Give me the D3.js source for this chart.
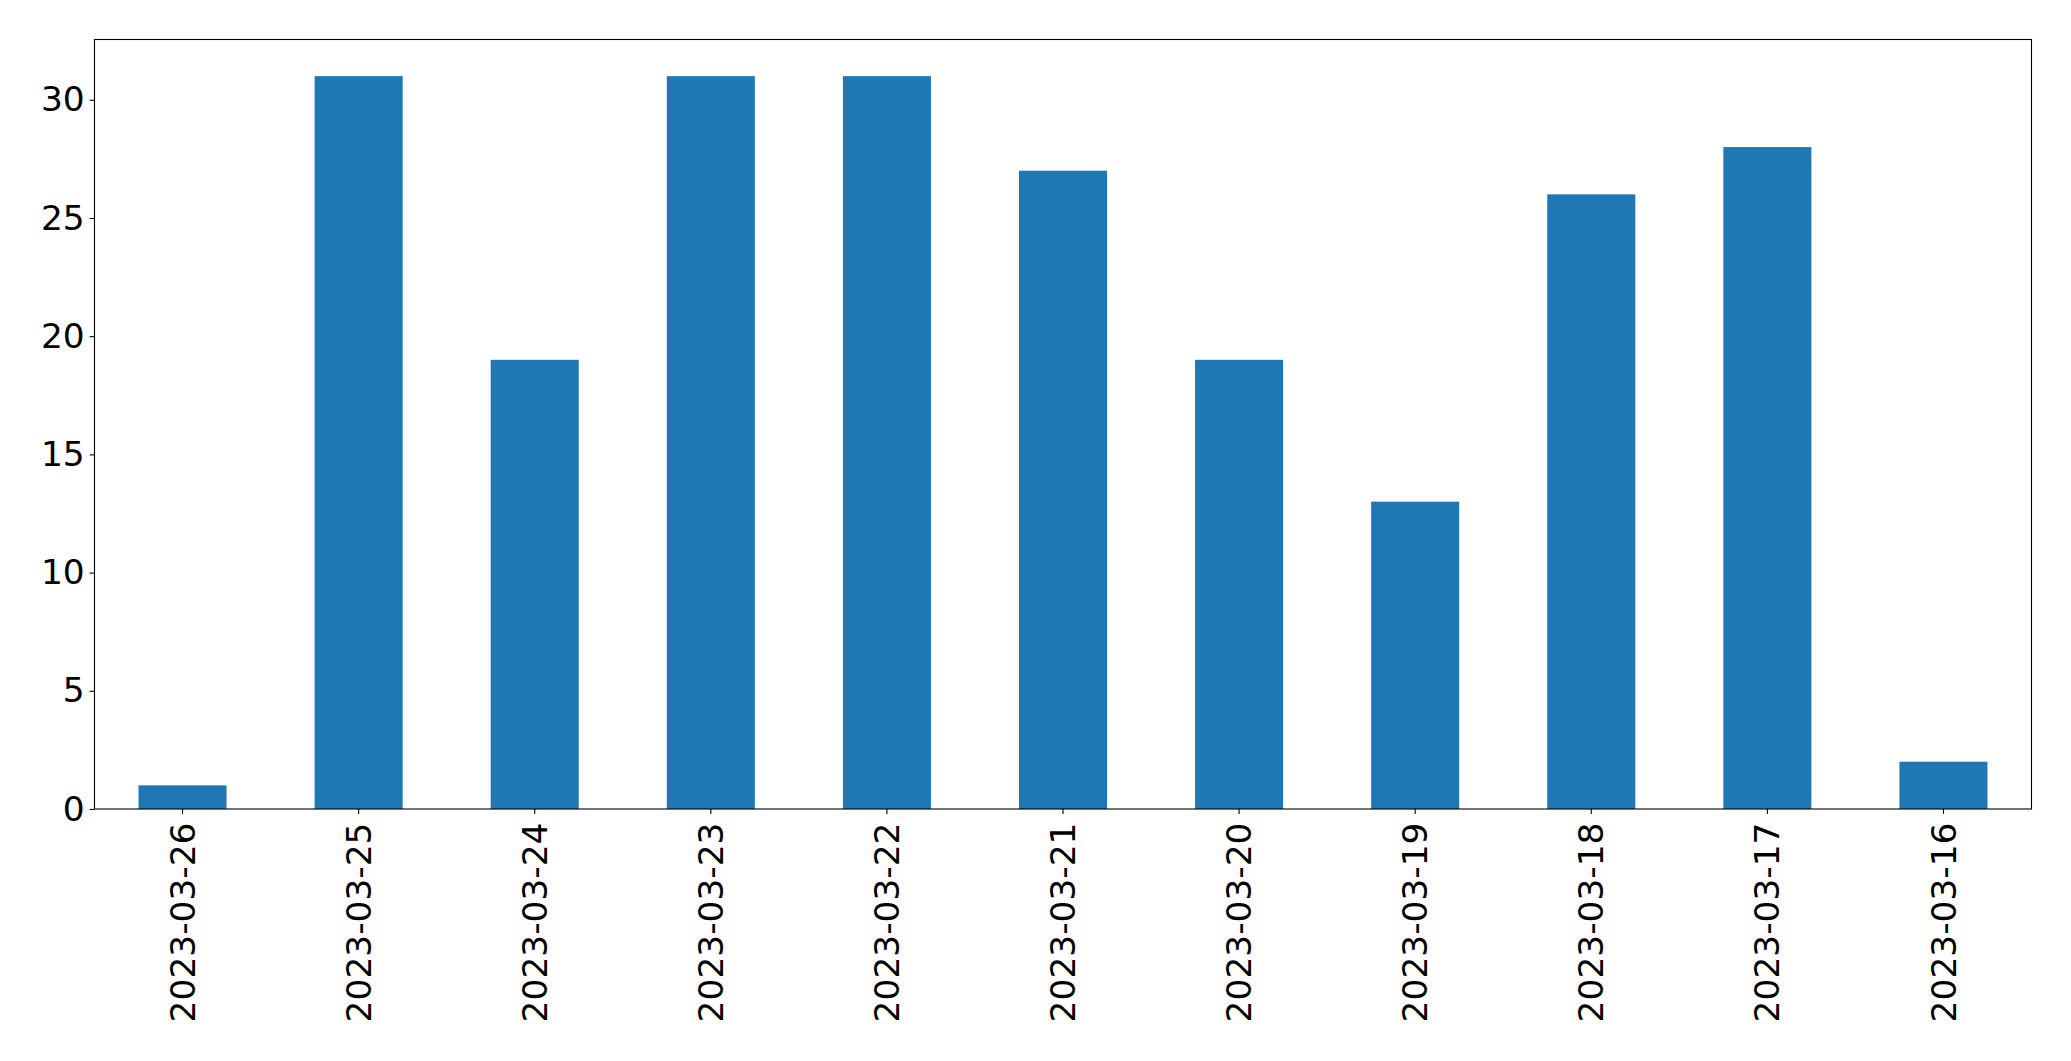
<!DOCTYPE html>
<html>
<head>
<meta charset="utf-8">
<script src="https://cdn.jsdelivr.net/npm/d3@7"></script>
<style>
  html, body { margin: 0; padding: 0; background: #fff; }
  svg { display: block; }
  text { font-family: "DejaVu Sans", sans-serif; }
</style>
</head>
<body>
<svg id="chart" width="2071" height="1061"></svg>
<script>
const categories = ["2023-03-26","2023-03-25","2023-03-24","2023-03-23","2023-03-22","2023-03-21","2023-03-20","2023-03-19","2023-03-18","2023-03-17","2023-03-16"];
const values = [1, 31, 19, 31, 31, 27, 19, 13, 26, 28, 2];
const yTicks = [0, 5, 10, 15, 20, 25, 30];

const W = 2071, H = 1061;
const margin = { left: 94.5, right: W - 2031.5, top: 39.5, bottom: H - 809 };
const svg = d3.select("#chart");
const iw = W - margin.left - margin.right;
const ih = H - margin.top - margin.bottom;
const g = svg.append("g").attr("transform", `translate(${margin.left},${margin.top})`);

const x = d3.scaleBand().domain(categories).range([0, iw]).paddingInner(0.5).paddingOuter(0.25);
const yMax = d3.max(values) * 1.05;
const y = d3.scaleLinear().domain([0, yMax]).range([ih, 0]);

g.selectAll("rect.bar").data(values).enter().append("rect")
  .attr("class", "bar")
  .attr("x", (d, i) => x(categories[i]))
  .attr("y", d => y(d))
  .attr("width", x.bandwidth())
  .attr("height", d => y(0) - y(d))
  .attr("fill", "#1f77b4");

const fs = 34.4;
const yAxis = g.append("g").call(d3.axisLeft(y).tickValues(yTicks).tickSize(4.9).tickPadding(4.9).tickFormat(d3.format("d")));
yAxis.select(".domain").remove();
yAxis.selectAll("line").attr("stroke", "#000").attr("stroke-width", 1.1);
yAxis.selectAll("text").attr("font-size", fs).attr("fill", "#000").attr("font-family", "DejaVu Sans");

const xAxis = g.append("g").attr("transform", `translate(0,${ih})`)
  .call(d3.axisBottom(x).tickSize(4.9).tickPadding(0));
xAxis.select(".domain").remove();
xAxis.selectAll("line").attr("stroke", "#000").attr("stroke-width", 1.1);
xAxis.selectAll("text")
  .attr("font-size", fs).attr("fill", "#000").attr("font-family", "DejaVu Sans")
  .attr("text-anchor", "end")
  .attr("dy", "0.35em")
  .attr("transform", "translate(0,13.5) rotate(-90)")
  .attr("x", 0).attr("y", 0);

g.append("rect").attr("x", 0).attr("y", 0).attr("width", iw).attr("height", ih)
  .attr("fill", "none").attr("stroke", "#000").attr("stroke-width", 1.1);
</script>
</body>
</html>
